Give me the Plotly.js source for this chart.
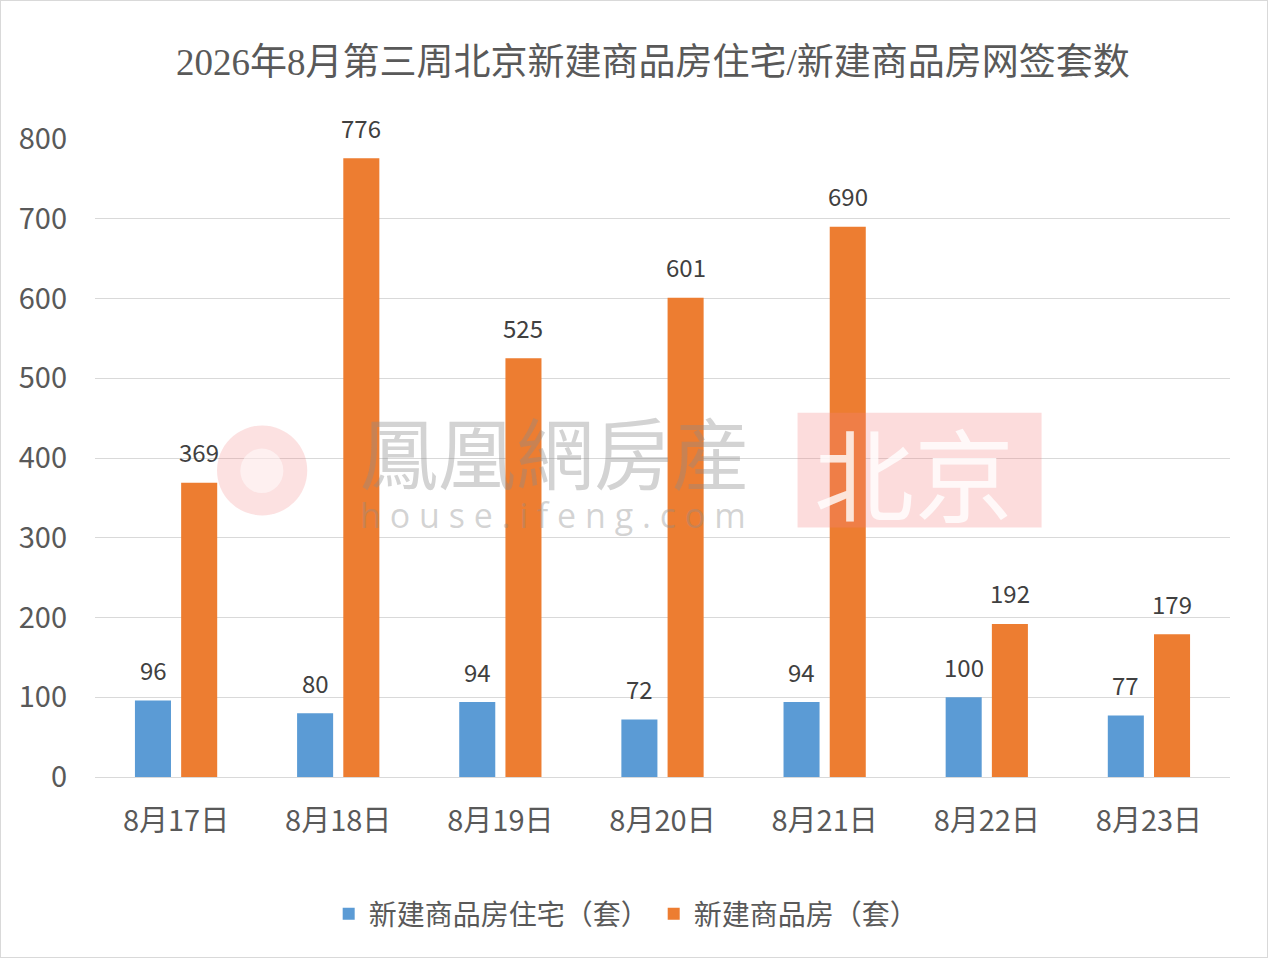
<!DOCTYPE html>
<html>
<head>
<meta charset="utf-8">
<script src="https://cdn.plot.ly/plotly-3.0.1.min.js"></script>
<style>
  html, body { margin: 0; padding: 0; background: #fff; }
  #chart { width: 1266px; height: 956px; border: 1px solid #d9d9d9; }
</style>
</head>
<body>
<div id="chart"></div>
<script>
const days = ['8月17日', '8月18日', '8月19日', '8月20日', '8月21日', '8月22日', '8月23日'];
const residential = [96, 80, 94, 72, 94, 100, 77];
const allNew = [369, 776, 525, 601, 690, 192, 179];

const blue = '#5b9bd5';
const orange = '#ed7d31';
const textColor = '#595959';
const cjk = '"Noto Sans CJK SC", "Noto Sans", sans-serif';

const traces = [
  {
    type: 'bar',
    name: '新建商品房住宅（套）',
    x: days,
    y: residential,
    marker: { color: blue },
    hoverinfo: 'x+y'
  },
  {
    type: 'bar',
    name: '新建商品房（套）',
    x: days,
    y: allNew,
    marker: { color: orange },
    hoverinfo: 'x+y'
  }
];

// value labels sit a bit higher than plotly's own "outside" text
const makeLabels = (vals, shift) => vals.map((v, i) => ({
  xref: 'x', yref: 'y', x: days[i], y: v,
  text: String(v), showarrow: false,
  xshift: shift, yshift: 31, yanchor: 'middle',
  font: { family: cjk, size: 24, color: '#404040' }
}));

// watermark, in paper coords
const wm = 'rgba(140,140,140,0.38)';

const layout = {
  width: 1266,
  height: 956,
  paper_bgcolor: '#fff',
  plot_bgcolor: '#fff',
  margin: { t: 138, l: 94, r: 37, b: 180 },
  barmode: 'group',
  bargap: 0.43,
  bargroupgap: 0.22,
  showlegend: true,
  title: {
    text: '2026年8月第三周北京新建商品房住宅/新建商品房网签套数',
    font: { family: '"Liberation Serif", "Noto Sans CJK SC", serif', size: 37, color: textColor },
    x: 0.515,
    xanchor: 'center',
    y: 0.936,
    yanchor: 'middle'
  },
  xaxis: {
    type: 'category',
    showgrid: false,
    showline: true,
    linecolor: '#d9d9d9',
    linewidth: 1,
    ticks: '',
    tickfont: { family: cjk, size: 29, color: textColor },
    ticklabelstandoff: 18
  },
  yaxis: {
    range: [0, 800],
    dtick: 100,
    showgrid: true,
    gridcolor: '#d9d9d9',
    gridwidth: 1,
    zeroline: false,
    showline: false,
    ticks: '',
    tickfont: { family: cjk, size: 29, color: textColor },
    ticklabelstandoff: 27
  },
  legend: {
    orientation: 'h',
    x: 0.468,
    xanchor: 'center',
    y: -0.215,
    yanchor: 'middle',
    font: { family: cjk, size: 28, color: textColor },
    itemwidth: 30,
    traceorder: 'normal'
  },
  shapes: [
    {
      type: 'circle', xref: 'paper', yref: 'paper',
      x0: 0.1075, x1: 0.187, y0: 0.41, y1: 0.551,
      fillcolor: 'rgba(240,120,120,0.22)', line: { width: 0 }, layer: 'above'
    },
    {
      type: 'circle', xref: 'paper', yref: 'paper',
      x0: 0.128, x1: 0.166, y0: 0.445, y1: 0.515,
      fillcolor: 'rgba(255,255,255,0.5)', line: { width: 0 }, layer: 'above'
    },
    {
      type: 'rect', xref: 'paper', yref: 'paper',
      x0: 0.619, x1: 0.834, y0: 0.391, y1: 0.571,
      fillcolor: 'rgba(245,130,130,0.28)', line: { width: 0 }, layer: 'above'
    }
  ],
  annotations: [
    {
      xref: 'paper', yref: 'paper', x: 0.232, xanchor: 'left', y: 0.512,
      text: '鳳凰網房産', showarrow: false,
      font: { family: '"Noto Sans CJK TC", sans-serif', size: 78, color: wm }
    },
    {
      xref: 'paper', yref: 'paper', x: 0.232, xanchor: 'left', y: 0.41,
      text: 'h o u s e . i f e n g . c o m', showarrow: false,
      font: { family: '"Open Sans", sans-serif', size: 34, color: wm }
    },
    {
      xref: 'paper', yref: 'paper', x: 0.632, xanchor: 'left', y: 0.48,
      text: '北京', showarrow: false,
      font: { family: '"Noto Sans CJK SC", sans-serif', size: 100, color: 'rgba(255,255,255,0.8)' }
    }
  ].concat(makeLabels(residential, -23), makeLabels(allNew, 23))
};

Plotly.newPlot('chart', traces, layout, { displayModeBar: false, staticPlot: true });
</script>
</body>
</html>
